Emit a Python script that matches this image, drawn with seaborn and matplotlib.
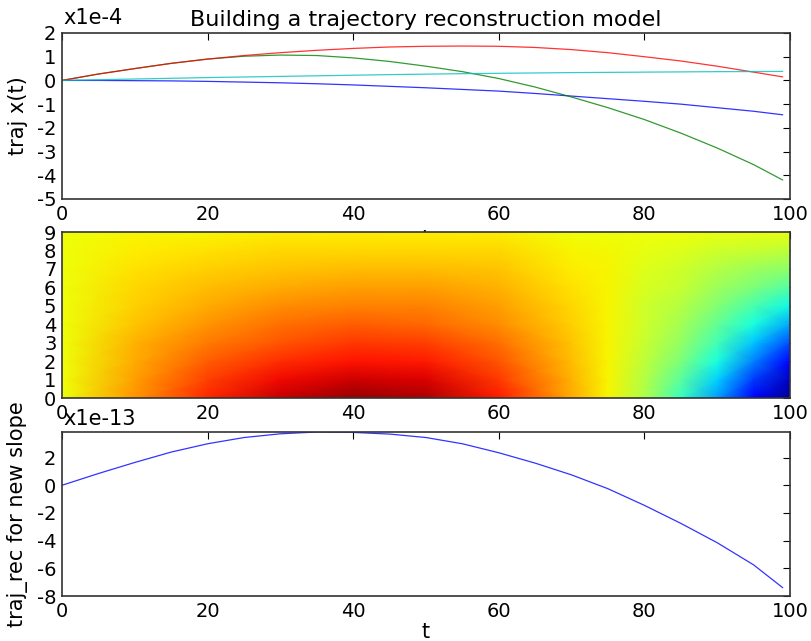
import numpy as np
import pandas as pd
import matplotlib
matplotlib.use("Agg")
import matplotlib.pyplot as plt
import matplotlib.ticker as mticker
import seaborn as sns

# ---------------- data ----------------
t_pts = [0, 5, 10, 15, 20, 25, 30, 35, 40, 45, 50, 55, 60, 65, 70, 75, 80, 85, 90, 95, 99]

# top panel, units of 1e-4
traj_blue = [0, 0.0, -0.01, -0.02, -0.04, -0.07, -0.10, -0.14, -0.19, -0.25, -0.31,
             -0.38, -0.45, -0.55, -0.66, -0.77, -0.88, -1.00, -1.15, -1.30, -1.45]
traj_green = [0, 0.27, 0.50, 0.72, 0.90, 1.02, 1.07, 1.05, 0.95, 0.80, 0.60,
              0.37, 0.08, -0.28, -0.70, -1.15, -1.65, -2.22, -2.85, -3.55, -4.20]
traj_red = [0, 0.27, 0.50, 0.72, 0.90, 1.05, 1.17, 1.27, 1.35, 1.41, 1.44,
            1.45, 1.44, 1.39, 1.30, 1.17, 1.00, 0.82, 0.60, 0.35, 0.15]
traj_cyan = [0, 0.03, 0.06, 0.09, 0.12, 0.145, 0.17, 0.195, 0.22, 0.245, 0.265,
             0.285, 0.30, 0.315, 0.33, 0.34, 0.35, 0.36, 0.37, 0.375, 0.38]
top_scale = 1e-4

# bottom panel, units of 1e-13
traj_rec = [0, 0.85, 1.65, 2.40, 3.00, 3.45, 3.72, 3.85, 3.82, 3.70, 3.45,
            3.00, 2.35, 1.60, 0.75, -0.25, -1.45, -2.75, -4.15, -5.75, -7.40]
bot_scale = 1e-13

# middle panel: normalized colour values (rows = slope 0..9, cols = t nodes)
heat_t = [0, 10, 20, 30, 40, 50, 60, 70, 75, 80, 85, 90, 95, 100]
heat_rows = list(range(10))
heat_vals = [
    # t: 0    10    20    30    40    50    60    70    75    80    85    90    95    100
    [0.64, 0.75, 0.87, 0.94, 0.98, 0.96, 0.88, 0.73, 0.65, 0.56, 0.42, 0.28, 0.12, 0.02],  # 0
    [0.64, 0.74, 0.84, 0.90, 0.93, 0.92, 0.85, 0.72, 0.65, 0.57, 0.46, 0.33, 0.18, 0.06],  # 1
    [0.64, 0.73, 0.81, 0.86, 0.89, 0.88, 0.82, 0.71, 0.65, 0.58, 0.50, 0.38, 0.25, 0.12],  # 2
    [0.64, 0.72, 0.78, 0.82, 0.85, 0.84, 0.79, 0.70, 0.65, 0.59, 0.53, 0.43, 0.32, 0.20],  # 3
    [0.64, 0.70, 0.75, 0.79, 0.81, 0.80, 0.76, 0.69, 0.65, 0.60, 0.55, 0.47, 0.38, 0.29],  # 4
    [0.64, 0.69, 0.73, 0.76, 0.77, 0.77, 0.74, 0.68, 0.65, 0.60, 0.57, 0.51, 0.44, 0.37],  # 5
    [0.64, 0.68, 0.71, 0.73, 0.74, 0.74, 0.72, 0.67, 0.65, 0.61, 0.59, 0.54, 0.50, 0.45],  # 6
    [0.64, 0.67, 0.69, 0.70, 0.71, 0.71, 0.70, 0.66, 0.65, 0.62, 0.60, 0.57, 0.54, 0.52],  # 7
    [0.64, 0.66, 0.67, 0.68, 0.68, 0.68, 0.68, 0.65, 0.645, 0.63, 0.62, 0.60, 0.59, 0.58],  # 8
    [0.64, 0.65, 0.65, 0.66, 0.66, 0.66, 0.66, 0.64, 0.64, 0.64, 0.64, 0.63, 0.63, 0.63],  # 9
]

# ---------------- style ----------------
sns.set_style("white")
plt.rcParams["font.family"] = ["DejaVu Sans"]
plt.rcParams.update({
    "font.size": 14,
    "text.color": "black",
    "axes.labelcolor": "black",
    "axes.edgecolor": "#333333",
    "axes.linewidth": 1.2,
    "xtick.direction": "in",
    "ytick.direction": "in",
    "xtick.top": True,
    "ytick.right": True,
    "xtick.major.size": 5,
    "ytick.major.size": 5,
    "xtick.color": "black",
    "ytick.color": "black",
    "xtick.labelsize": 14,
    "ytick.labelsize": 14,
})

W, H = 812, 641
fig = plt.figure(figsize=(W / 100, H / 100), dpi=100)
fig.patch.set_facecolor("white")


def add_ax(l, t, r, b):
    return fig.add_axes([l / W, 1 - b / H, (r - l) / W, (b - t) / H])


ax1 = add_ax(62, 33, 790, 199)
ax2 = add_ax(62, 232, 790, 398)
ax3 = add_ax(62, 432, 790, 596)

# ---------------- top panel ----------------
df_top = pd.DataFrame({
    "t": t_pts * 4,
    "val": [v * top_scale for v in traj_blue + traj_green + traj_red + traj_cyan],
    "series": (["b"] * len(t_pts) + ["g"] * len(t_pts) + ["r"] * len(t_pts) + ["c"] * len(t_pts)),
})
palette = {"b": "#0000ff", "g": "#008000", "r": "#ff0000", "c": "#00bfbf"}
sns.lineplot(data=df_top, x="t", y="val", hue="series", palette=palette,
             ax=ax1, legend=False, linewidth=0.9, alpha=0.8)
ax1.set_xlim(0, 100)
ax1.set_ylim(-5 * top_scale, 2 * top_scale)
ax1.yaxis.set_major_locator(mticker.FixedLocator([k * top_scale for k in range(-5, 3)]))
ax1.yaxis.set_major_formatter(mticker.FuncFormatter(lambda v, p: f"{v / top_scale:.0f}"))
ax1.xaxis.set_major_locator(mticker.MultipleLocator(20))
ax1.set_xlabel("t", fontsize=15)
ax1.set_ylabel("traj x(t)", fontsize=15)
ax1.yaxis.set_label_coords(-0.047, 0.5)
ax1.set_title("Building a trajectory reconstruction model", fontsize=16, pad=5)
ax1.text(0.002, 1.03, "x1e-4", transform=ax1.transAxes, fontsize=15, ha="left", va="bottom")

# ---------------- middle panel ----------------
T, Y = np.meshgrid(heat_t, heat_rows)
ax2.pcolormesh(T, Y, np.array(heat_vals), shading="gouraud", cmap="jet", vmin=0, vmax=1)
ax2.set_xlim(0, 100)
ax2.set_ylim(0, 9)
ax2.yaxis.set_major_locator(mticker.MultipleLocator(1))
ax2.xaxis.set_major_locator(mticker.MultipleLocator(20))

# ---------------- bottom panel ----------------
df_bot = pd.DataFrame({"t": t_pts, "val": [v * bot_scale for v in traj_rec]})
sns.lineplot(data=df_bot, x="t", y="val", ax=ax3, color="#0000ff", linewidth=0.9, alpha=0.8)
ax3.set_xlim(0, 100)
ax3.set_ylim(-8 * bot_scale, max(traj_rec) * bot_scale)
ax3.yaxis.set_major_locator(mticker.FixedLocator([k * bot_scale for k in range(-8, 4, 2)]))
ax3.yaxis.set_major_formatter(mticker.FuncFormatter(lambda v, p: f"{v / bot_scale:.0f}"))
ax3.xaxis.set_major_locator(mticker.MultipleLocator(20))
ax3.set_xlabel("t", fontsize=15, labelpad=1)
ax3.set_ylabel("traj_rec for new slope", fontsize=15)
ax3.yaxis.set_label_coords(-0.047, 0.5)
ax3.text(0.002, 1.02, "x1e-13", transform=ax3.transAxes, fontsize=15, ha="left", va="bottom")

for ax in (ax1, ax2, ax3):
    ax.tick_params(axis="both", which="both", direction="in", top=True, right=True,
                   labeltop=False, labelright=False, pad=4)
    for s in ax.spines.values():
        s.set_visible(True)

fig.savefig("out.png", dpi=100, facecolor="white")
